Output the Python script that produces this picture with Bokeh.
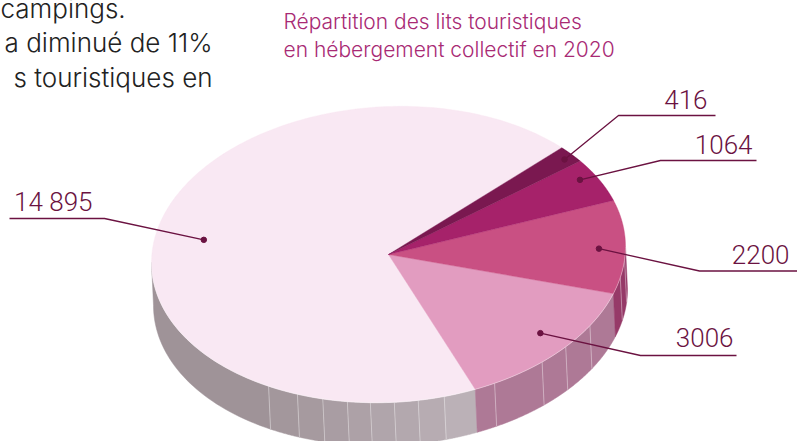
import numpy as np
from bokeh.plotting import figure
from bokeh.models import Range1d
from bokeh.core.properties import value
from bokeh.embed import file_html
from bokeh.resources import INLINE

# Data: clockwise from the upper right
lits = [416, 1064, 2200, 3006, 14895]
labels = ["416", "1064", "2200", "3006", "14 895"]
top_colors = ["#7a1850", "#a6226a", "#c95083", "#e29cc0", "#f9e8f3"]
title_lines = ["Répartition des lits touristiques", "en hébergement collectif en 2020"]
body_lines = ["campings.", "a diminué de 11%", "s touristiques en"]

# Layout of the 3-D pie, in page pixels
W, H = 797, 441
CX, CY, RX, RY, SHEAR = 388, 254, 237, 148, 8
DEPTH_X, DEPTH_Y = 2, 43
T0 = -43
NUM_FONT = value("Roboto Light")
TXT_FONT = value("Inter Light")
INK = "#6b1241"
BASE = 0.42   # baseline correction, in em

# Leader layout: dot angle offset, dot radius, elbow and underline end, label x, baseline
dot_dt = [0.5, -2.5, 0.5, -2, -2.5]
dot_r = [0.956, 0.93, 0.888, 0.855, 0.792]
elbow = [(618, 115), (660, 160), (699, 270.5), (640, 355), (104, 218)]
line_end = [715, 756, 797, 736, 9]
label_xy = [(707, 110), (752, 155), (789, 265), (733, 348), (92, 212)]

# Side facets: seams along the rim (degrees), with side colours
gray_seams = [180, 120.4, 112.6, 106.1, 100, 94.4, 88.6, 82.8, 76.4]
gray_cols = ["#9f9398", "#a3979c", "#a69a9f", "#a99da3", "#ada1a7", "#b0a5ab", "#b3a8ae", "#b7acb2", "#bbb1b7"]
side_seams = [63.4, 49.6, 41.6, 31.8]
side_col = "#ae7996"
side2_seams = [12, 5]
side2_col = "#963a68"


def rim(t, r=1.0, dx=0.0, dy=0.0):
    t = np.radians(t)
    return (CX + dx + RX * r * np.cos(t),
            CY + dy + r * (RY * np.sin(t) - SHEAR * np.cos(t)))


def label(x, y, s, font, size, color, align):
    p.text([x], [y - BASE * size], text=[s], text_font=font, text_font_size=f"{size}px",
           text_color=color, text_align=align, text_baseline="alphabetic")


p = figure(width=W, height=H, x_range=Range1d(0, W), y_range=Range1d(H, 0),
           output_backend="svg", toolbar_location=None, min_border=0,
           outline_line_color=None, x_axis_location=None, y_axis_location=None)
p.grid.visible = False
p.styles = {"position": "absolute", "left": "0px", "top": "0px"}
p.background_fill_color = None
p.border_fill_color = None

shares = np.array(lits) / sum(lits) * 360
starts = T0 + np.r_[0, np.cumsum(shares)[:-1]]
b_2200, b_3006 = starts[3], starts[4]

# Side wall
walls = (gray_seams + [b_3006], gray_cols), \
        ([b_3006] + side_seams + [b_2200], [side_col] * 5), \
        ([b_2200] + side2_seams + [0], [side2_col] * 3)
for seams, cols in walls:
    for a, b, c in zip(seams[:-1], seams[1:], cols):
        ts = np.linspace(a, b, 40)
        x1, y1 = rim(ts)
        x2, y2 = rim(ts[::-1], dx=DEPTH_X, dy=DEPTH_Y)
        p.patch(np.r_[x1, x2], np.r_[y1, y2], fill_color=c, line_color=c, line_width=0.5)
    for s in seams[1:-1]:
        x1, y1 = rim(s)
        x2, y2 = rim(s, dx=DEPTH_X, dy=DEPTH_Y)
        p.line([x1, x2], [y1, y2], line_color="white", line_alpha=0.45, line_width=0.8)

# Top face, angles from the values
for i in [4, 3, 2, 1, 0]:
    ts = np.linspace(starts[i], starts[i] + shares[i], 200)
    x, y = rim(ts)
    p.patch(np.r_[CX, x], np.r_[CY, y], fill_color=top_colors[i],
            line_color=top_colors[i], line_width=0.4)

# Pale rim line above the side wall
ts = np.linspace(0, 180, 200)
x, y = rim(ts)
p.line(x, y, line_color="white", line_alpha=0.5, line_width=0.7)

# Leaders
for i in range(len(lits)):
    mid = starts[i] + shares[i] / 2 + dot_dt[i]
    dx, dy = rim(mid, r=dot_r[i])
    ex, ey = elbow[i]
    p.line([dx, ex, line_end[i]], [dy, ey, ey], line_color=INK, line_width=1.3)
    p.scatter([dx], [dy], size=5.5, color=INK)
    lx, ly = label_xy[i]
    label(lx, ly, labels[i], NUM_FONT, 26, INK, "right")

# Title
for line, ty in zip(title_lines, (30, 58)):
    label(283, ty, line, TXT_FONT, 21, "#a82a74", "left")

# Cropped body text
for line, bx, by, al in zip(body_lines, (0, 212, 212), (19, 53, 88), ("left", "right", "right")):
    label(bx, by, line, TXT_FONT, 26, "#222222", al)

open("out.html", "w").write(file_html(p, INLINE))
